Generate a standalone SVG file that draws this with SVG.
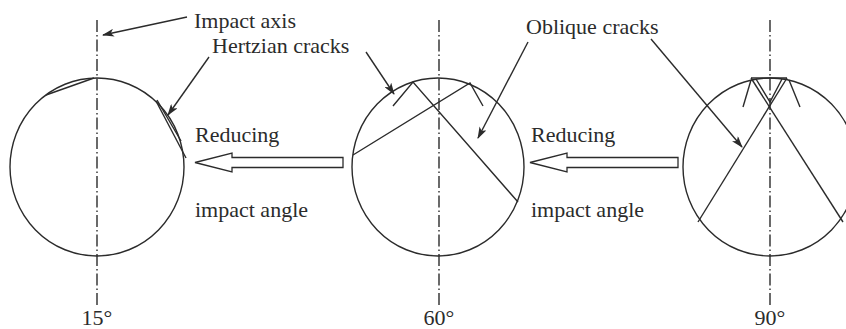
<svg xmlns="http://www.w3.org/2000/svg" width="846" height="329" viewBox="0 0 846 329">
<defs>
<style>
.ln{stroke:#2b2b2b;stroke-width:1.4;fill:none}
.ax{stroke:#2b2b2b;stroke-width:1.4;fill:none;stroke-dasharray:12 3 1.5 3}
.ha{stroke:#2b2b2b;stroke-width:1.3;fill:#fff}
.t{font-family:"Liberation Serif","Times New Roman",serif;font-size:22px;fill:#2b2b2b}
.ar{stroke:#2b2b2b;stroke-width:1.4;fill:none;marker-end:url(#ah)}
</style>
<marker id="ah" viewBox="0 0 12 8" refX="11" refY="4" markerWidth="12" markerHeight="8" markerUnits="userSpaceOnUse" orient="auto">
<path d="M0,0 L12,4 L0,8 L3,4 z" fill="#2b2b2b"/>
</marker>
</defs>
<rect width="846" height="329" fill="#fff"/>
<g id="particle15">
<ellipse class="ln" cx="97" cy="167" rx="87" ry="89"/>
<line class="ax" x1="97" y1="20" x2="97" y2="305"/>
<path class="ln" d="M46,95 L94,78"/>
<path class="ln" d="M156,101 L186,158"/>
<path class="ln" d="M157,100 L181,141"/>
<text class="t" x="97" y="325" text-anchor="middle">15°</text>
</g>
<g id="particle60">
<ellipse class="ln" cx="438" cy="167" rx="86" ry="89"/>
<line class="ax" x1="439" y1="20" x2="439" y2="305"/>
<path class="ln" d="M393,106 L413,82 L518,202"/>
<path class="ln" d="M353,155 L470,83 L483,106"/>
<text class="t" x="439" y="325" text-anchor="middle">60°</text>
</g>
<g id="particle90">
<ellipse class="ln" cx="770" cy="167" rx="87" ry="89"/>
<line class="ax" x1="770" y1="20" x2="770" y2="305"/>
<path class="ln" d="M751,78 L787,78"/>
<path class="ln" d="M751,78 L843,222"/>
<path class="ln" d="M787,78 L698,222"/>
<path class="ln" d="M756,79 L770,102 L782,79"/>
<path class="ln" d="M751,80 L743,107"/>
<path class="ln" d="M789,80 L800,107"/>
<text class="t" x="770" y="325" text-anchor="middle">90°</text>
</g>
<g id="label-impact-axis">
<text class="t" x="194" y="28">Impact axis</text>
</g>
<g id="label-hertzian">
<text class="t" x="212" y="53">Hertzian cracks</text>
</g>
<g id="label-oblique">
<text class="t" x="526" y="34">Oblique cracks</text>
</g>
<g id="reduce1">
<text class="t" x="195" y="142">Reducing</text>
<text class="t" x="195" y="217">impact angle</text>
<path class="ha" d="M195,162.5 L232,153 L232,157.5 L343,157.5 L343,167.5 L232,167.5 L232,172 Z"/>
</g>
<g id="reduce2">
<text class="t" x="531" y="142">Reducing</text>
<text class="t" x="531" y="217">impact angle</text>
<path class="ha" d="M530,162.5 L567,153 L567,157.5 L678,157.5 L678,167.5 L567,167.5 L567,172 Z"/>
</g>
<g id="connectors">
<line class="ar" x1="187" y1="17" x2="103" y2="35"/>
<line class="ar" x1="209" y1="57" x2="168" y2="115"/>
<line class="ar" x1="366" y1="52" x2="394" y2="94"/>
<line class="ar" x1="528" y1="42" x2="478" y2="138"/>
<line class="ar" x1="651" y1="39" x2="742" y2="147"/>
</g>
</svg>
